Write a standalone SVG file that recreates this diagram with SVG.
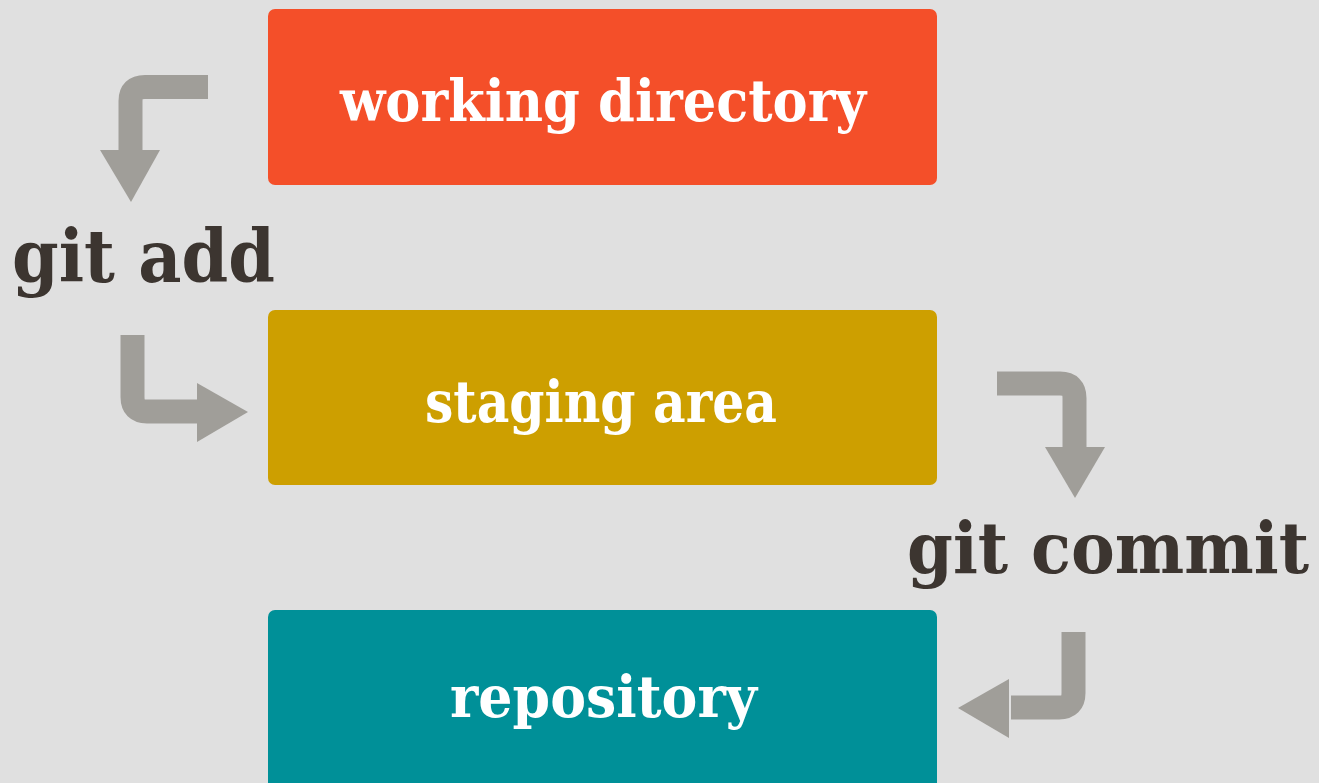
<svg xmlns="http://www.w3.org/2000/svg" width="1319" height="783" viewBox="0 0 1319 783">
<style>
.box-label{font-family:"DejaVu Serif","Liberation Serif",serif;font-weight:bold;font-size:58px;fill:#ffffff;}
.cmd{font-family:"DejaVu Serif","Liberation Serif",serif;font-weight:bold;font-size:72px;fill:#3c3530;}
.bar{fill:none;stroke:#a09e99;stroke-width:24;stroke-linejoin:round;}
.head{fill:#a09e99;}
</style>
<rect width="1319" height="783" fill="#e0e0e0"/>
<g id="working-directory">
<rect x="268" y="9" width="669" height="176" rx="7" fill="#f44f29"/>
<text class="box-label" x="340" y="121" textLength="526" lengthAdjust="spacingAndGlyphs">working directory</text>
</g>
<g id="staging-area">
<rect x="268" y="310" width="669" height="175" rx="7" fill="#cd9f00"/>
<text class="box-label" x="425" y="422" textLength="352" lengthAdjust="spacingAndGlyphs">staging area</text>
</g>
<g id="repository">
<rect x="268" y="610" width="669" height="180" rx="7" fill="#009098"/>
<text class="box-label" x="450" y="717" textLength="307" lengthAdjust="spacingAndGlyphs">repository</text>
</g>
<g id="git-add">
<text class="cmd" x="12" y="282" textLength="263" lengthAdjust="spacingAndGlyphs">git add</text>
</g>
<g id="git-commit" transform="translate(907,573) scale(1,1.1)">
<text class="cmd" x="0" y="0" style="font-size:65px" textLength="402" lengthAdjust="spacingAndGlyphs">git commit</text>
</g>
<g id="connectors">
<path class="bar" d="M208 87 H145 Q130.5 87 130.5 101 V152"/>
<polygon class="head" points="100,150 160,150 131,202"/>
<path class="bar" d="M132.5 335 V397 Q132.5 411.5 147 411.5 H199"/>
<polygon class="head" points="197,383 197,442 248,412"/>
<path class="bar" d="M997 383.5 H1060 Q1074.5 383.5 1074.5 398 V449"/>
<polygon class="head" points="1045,447 1105,447 1075,498"/>
<path class="bar" d="M1073.5 632 V693 Q1073.5 707.5 1059 707.5 H1011"/>
<polygon class="head" points="1009,679 1009,738 958,708"/>
</g>
</svg>
